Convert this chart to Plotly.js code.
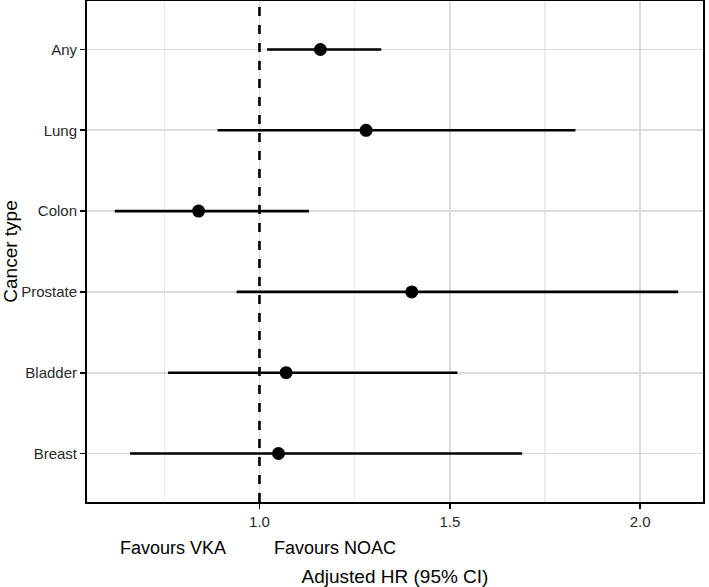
<!DOCTYPE html>
<html>
<head>
<meta charset="utf-8">
<script src="https://cdn.plot.ly/plotly-3.0.1.min.js"></script>
<style>html,body{margin:0;padding:0;background:#fff;}#chart{width:709px;height:587px;}</style>
</head>
<body>
<div id="chart"></div>
<script>
// Data
const cancerTypes = ["Any", "Lung", "Colon", "Prostate", "Bladder", "Breast"];
const hrPoint = [1.16, 1.28, 0.84, 1.40, 1.07, 1.05];
const ciLower = [1.02, 0.89, 0.62, 0.94, 0.76, 0.66];
const ciUpper = [1.32, 1.83, 1.13, 2.10, 1.52, 1.69];
const xTickVals = [1.0, 1.5, 2.0];
const xTickText = ["1.0", "1.5", "2.0"];
const minorGrid = [0.75, 1.25, 1.75];
const refLine = 1;

const FONT = "Liberation Sans, Arial, sans-serif";

const trace = {
  type: "scatter",
  mode: "markers",
  x: hrPoint,
  y: cancerTypes,
  marker: {color: "black", size: 13, symbol: "circle"},
  error_x: {
    type: "data",
    symmetric: false,
    array: hrPoint.map((p, i) => ciUpper[i] - p),
    arrayminus: hrPoint.map((p, i) => p - ciLower[i]),
    width: 0,
    thickness: 2.6,
    color: "black"
  },
  hoverinfo: "x+y",
  showlegend: false
};

const layout = {
  width: 709,
  height: 587,
  margin: {l: 87, r: 6, t: 1, b: 85},
  paper_bgcolor: "white",
  plot_bgcolor: "white",
  font: {family: FONT, color: "#1a1a1a"},
  xaxis: {
    range: [0.547, 2.165],
    tickvals: xTickVals,
    ticktext: xTickText,
    ticks: "outside",
    ticklen: 5,
    tickwidth: 1.8,
    tickcolor: "black",
    tickfont: {family: FONT, size: 15, color: "#2a2a2a"},
    showgrid: true,
    gridcolor: "#dcdcdc",
    gridwidth: 1.8,
    minor: {tickvals: minorGrid, showgrid: true, gridcolor: "#ebebeb", gridwidth: 1.2, ticks: ""},
    zeroline: false,
    showline: true,
    linecolor: "black",
    linewidth: 2,
    mirror: true,
    automargin: false,
    title: {text: "Adjusted HR (95% CI)", font: {family: FONT, size: 19, color: "black"}, standoff: 50}
  },
  yaxis: {
    type: "category",
    categoryorder: "array",
    categoryarray: cancerTypes.slice().reverse(),
    range: [-0.6, 5.6],
    ticks: "outside",
    ticklen: 5,
    tickwidth: 1.8,
    tickcolor: "black",
    tickfont: {family: FONT, size: 15, color: "#2a2a2a"},
    showgrid: true,
    gridcolor: "#dcdcdc",
    gridwidth: 1.8,
    zeroline: false,
    showline: true,
    linecolor: "black",
    linewidth: 2,
    mirror: true,
    automargin: false,
    title: {text: "Cancer type", font: {family: FONT, size: 19, color: "black"}, standoff: 5}
  },
  shapes: [{
    type: "line",
    xref: "x", yref: "paper",
    x0: refLine, x1: refLine, y0: 0, y1: 1,
    line: {color: "black", width: 2.6, dash: "dash"},
    layer: "above"
  }],
  annotations: [
    {text: "Favours VKA", xref: "paper", yref: "paper", x: 0.139, y: -0.092, xanchor: "center", yanchor: "middle", showarrow: false, font: {family: FONT, size: 18, color: "black"}},
    {text: "Favours NOAC", xref: "paper", yref: "paper", x: 0.402, y: -0.092, xanchor: "center", yanchor: "middle", showarrow: false, font: {family: FONT, size: 18, color: "black"}}
  ]
};

Plotly.newPlot("chart", [trace], layout, {displayModeBar: false, staticPlot: true});
</script>
</body>
</html>
